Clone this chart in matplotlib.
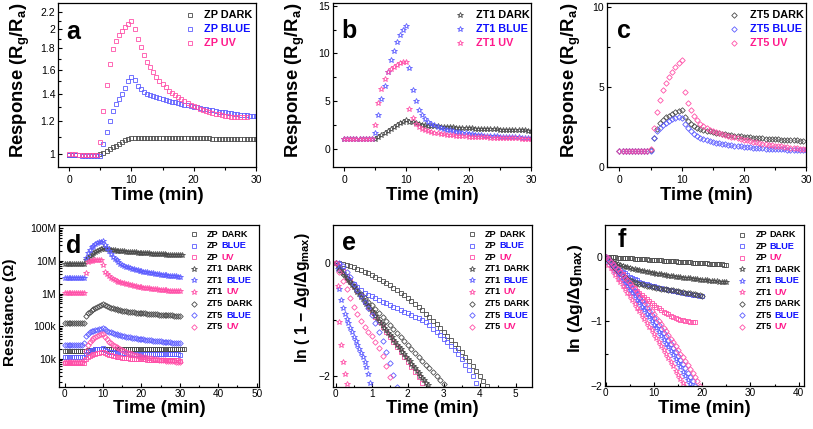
import matplotlib
matplotlib.use("Agg")
import matplotlib.pyplot as plt
from matplotlib.ticker import FixedLocator, FixedFormatter, MultipleLocator, NullFormatter, LogLocator

plt.rcParams['font.family'] = ['Liberation Sans', 'DejaVu Sans']
plt.rcParams['mathtext.fontset'] = 'custom'
plt.rcParams['mathtext.rm'] = 'Liberation Sans:bold'
plt.rcParams['mathtext.it'] = 'Liberation Sans:bold'
plt.rcParams['mathtext.bf'] = 'Liberation Sans:bold'
plt.rcParams['axes.linewidth'] = 0.9

# ---------------- data ----------------
# time grid (min) for the response / resistance panels
t_top = [0, 0.5, 1, 1.5, 2, 2.5, 3, 3.5, 4, 4.5, 5, 5.5, 6, 6.5, 7, 7.5, 8, 8.5, 9, 9.5,
         10, 10.5, 11, 11.5, 12, 12.5, 13, 13.5, 14, 14.5, 15, 15.5, 16, 16.5, 17, 17.5, 18, 18.5, 19, 19.5,
         20, 20.5, 21, 21.5, 22, 22.5, 23, 23.5, 24, 24.5, 25, 25.5, 26, 26.5, 27, 27.5, 28, 28.5, 29, 29.5, 30]
t_d = t_top + [30.5, 31]
t_f = t_top[:51]
t_e = [0, 0.1, 0.2, 0.3, 0.4, 0.5, 0.6, 0.7, 0.8, 0.9, 1.0, 1.1, 1.2, 1.3, 1.4, 1.5, 1.6, 1.7, 1.8, 1.9, 2.0,
       2.1, 2.2, 2.3, 2.4, 2.5, 2.6, 2.7, 2.8, 2.9, 3.0, 3.1, 3.2, 3.3, 3.4, 3.5, 3.6, 3.7, 3.8, 3.9, 4.0, 4.1, 4.2]
t_ef = [0, 0.05, 0.1, 0.15, 0.2, 0.25, 0.3, 0.35, 0.4, 0.45, 0.5, 0.55, 0.6, 0.65, 0.7, 0.75, 0.8, 0.85, 0.9, 0.95,
        1.0, 1.05, 1.1, 1.15, 1.2, 1.25, 1.3, 1.35, 1.4, 1.45, 1.5, 1.55, 1.6, 1.65, 1.7, 1.75, 1.8, 1.85, 1.9, 1.95,
        2.0, 2.05, 2.1, 2.15, 2.2, 2.25, 2.3, 2.35, 2.4, 2.45, 2.5, 2.55, 2.6]

# (a) ZP response
a_dark = [0.998, 0.998, 0.998, 0.997, 0.997, 0.997, 0.997, 0.996, 0.996, 0.996,
          1.0, 1.01, 1.02, 1.03, 1.04, 1.05, 1.06, 1.07, 1.08, 1.088, 1.095,
          1.096, 1.096, 1.096, 1.096, 1.095, 1.095, 1.095, 1.095, 1.095, 1.094, 1.094, 1.094, 1.094, 1.094,
          1.093, 1.093, 1.093, 1.093, 1.093, 1.092, 1.092, 1.092, 1.092, 1.092, 1.092, 1.091, 1.091, 1.091,
          1.091, 1.091, 1.091, 1.09, 1.09, 1.09, 1.09, 1.09, 1.09, 1.09, 1.09, 1.09]
a_blue = [0.995, 0.995, 0.994, 0.994, 0.993, 0.993, 0.992, 0.992, 0.991, 0.991,
          0.99, 1.06, 1.13, 1.2, 1.27, 1.32, 1.36, 1.4, 1.445, 1.5, 1.54,
          1.51, 1.46, 1.435, 1.415, 1.4, 1.39, 1.38, 1.372, 1.365, 1.358, 1.352, 1.346, 1.34, 1.334, 1.328,
          1.322, 1.317, 1.312, 1.307, 1.302, 1.297, 1.292, 1.288, 1.284, 1.28, 1.276, 1.272, 1.268, 1.265,
          1.262, 1.259, 1.256, 1.253, 1.25, 1.247, 1.244, 1.242, 1.24, 1.237, 1.235]
a_uv = [1.0, 1.0, 0.999, 0.998, 0.998, 0.997, 0.997, 0.996, 0.996, 0.995,
        1.07, 1.27, 1.47, 1.65, 1.79, 1.875, 1.935, 1.98, 2.025, 2.065, 2.1,
        2.0, 1.9, 1.81, 1.74, 1.67, 1.62, 1.58, 1.54, 1.505, 1.475, 1.45, 1.425, 1.405, 1.387, 1.372,
        1.357, 1.343, 1.33, 1.318, 1.307, 1.297, 1.288, 1.28, 1.272, 1.265, 1.259, 1.253, 1.248, 1.244,
        1.24, 1.236, 1.233, 1.23, 1.228, 1.227, 1.228, 1.231]

# (b) ZT1 response
b_dark = [1.0, 1.0, 1.0, 1.0, 1.0, 1.0, 1.0, 1.0, 1.0, 1.0,
          1.05, 1.25, 1.45, 1.65, 1.85, 2.05, 2.25, 2.45, 2.65, 2.85, 3.0,
          2.85, 2.75, 2.65, 2.58, 2.52, 2.47, 2.43, 2.4, 2.37, 2.34, 2.31, 2.29, 2.27, 2.25, 2.23, 2.21,
          2.19, 2.17, 2.16, 2.14, 2.13, 2.11, 2.1, 2.08, 2.07, 2.06, 2.04, 2.03, 2.02, 2.0, 1.99, 1.98,
          1.97, 1.96, 1.95, 1.94, 1.93, 1.92, 1.91, 1.9]
b_blue = [0.97, 0.97, 0.97, 0.97, 0.97, 0.97, 0.97, 0.97, 0.97, 0.97,
          1.6, 3.5, 5.2, 6.6, 8.1, 9.3, 10.3, 11.2, 11.9, 12.5, 12.9,
          8.5, 6.2, 5.0, 4.1, 3.5, 3.1, 2.8, 2.6, 2.45, 2.3, 2.2, 2.1, 2.0, 1.92, 1.85, 1.78, 1.72, 1.66,
          1.6, 1.55, 1.51, 1.47, 1.44, 1.41, 1.38, 1.35, 1.33, 1.31, 1.29, 1.27, 1.25, 1.23, 1.22, 1.2,
          1.19, 1.18, 1.17, 1.16, 1.15, 1.14]
b_uv = [1.0, 1.0, 1.0, 1.0, 1.0, 1.0, 1.0, 1.0, 1.0, 1.0,
        2.5, 4.8, 6.3, 7.3, 8.0, 8.35, 8.6, 8.8, 8.95, 9.05, 9.1,
        4.2, 3.2, 2.6, 2.3, 2.1, 1.95, 1.83, 1.74, 1.66, 1.6, 1.55, 1.5, 1.46, 1.42, 1.39, 1.36, 1.33,
        1.31, 1.29, 1.27, 1.25, 1.23, 1.22, 1.2, 1.19, 1.18, 1.17, 1.16, 1.15, 1.14, 1.13, 1.12, 1.11,
        1.1, 1.09, 1.08, 1.07, 1.06, 1.05, 1.05]

# (c) ZT5 response
c_dark = [1.0, 1.0, 1.0, 1.0, 1.0, 1.0, 1.0, 1.0, 1.0, 1.0,
          1.05, 1.8, 2.35, 2.75, 2.95, 3.1, 3.2, 3.3, 3.4, 3.5, 3.55,
          3.1, 2.85, 2.65, 2.52, 2.44, 2.37, 2.31, 2.26, 2.21, 2.17, 2.13, 2.09, 2.05, 2.02, 1.99, 1.96,
          1.93, 1.91, 1.89, 1.87, 1.85, 1.83, 1.81, 1.79, 1.78, 1.76, 1.75, 1.73, 1.72, 1.71, 1.7, 1.69,
          1.68, 1.67, 1.66, 1.65, 1.64, 1.63, 1.62]
c_blue = [1.0, 1.0, 1.0, 1.0, 1.0, 1.0, 1.0, 1.0, 1.0, 1.0,
          1.0, 1.8, 2.2, 2.45, 2.62, 2.75, 2.88, 2.97, 3.05, 3.1, 3.05,
          2.65, 2.4, 2.2, 2.05, 1.92, 1.82, 1.73, 1.66, 1.6, 1.55, 1.5, 1.46, 1.42, 1.39, 1.36, 1.33, 1.3,
          1.28, 1.26, 1.24, 1.22, 1.2, 1.18, 1.17, 1.15, 1.14, 1.13, 1.11, 1.1, 1.09, 1.08, 1.07, 1.07,
          1.06, 1.05, 1.05, 1.04, 1.04, 1.03, 1.03]
c_uv = [1.0, 1.0, 1.0, 1.0, 1.0, 1.0, 1.0, 1.0, 1.0, 1.0,
        1.1, 2.4, 3.4, 4.2, 4.8, 5.25, 5.6, 5.95, 6.25, 6.5, 6.7,
        4.7, 4.0, 3.55, 3.2, 2.9, 2.68, 2.52, 2.4, 2.3, 2.22, 2.15, 2.09, 2.03, 1.98, 1.93, 1.88, 1.83,
        1.78, 1.73, 1.68, 1.64, 1.6, 1.56, 1.52, 1.48, 1.44, 1.41, 1.37, 1.34, 1.31, 1.28, 1.26, 1.23,
        1.21, 1.19, 1.17, 1.15, 1.13, 1.11, 1.09]

# (d) resistance, kOhm
d_zp_dark = [17.5, 17.5, 17.5, 17.5, 17.5, 17.5, 17.5, 17.5, 17.5, 17.5, 17.5,
             18.0, 18.4, 18.8, 19.1, 19.4, 19.7, 20.0, 20.3, 20.6, 20.8,
             20.8, 20.8, 20.7, 20.7, 20.6, 20.6, 20.5, 20.5, 20.5, 20.4, 20.4, 20.4, 20.3, 20.3, 20.3, 20.2,
             20.2, 20.2, 20.2, 20.1, 20.1, 20.1, 20.1, 20.0, 20.0, 20.0, 20.0, 20.0, 19.9, 19.9, 19.9, 19.9,
             19.9, 19.8, 19.8, 19.8, 19.8, 19.8, 19.8, 19.7, 19.7, 19.7]
d_zp_blue = [11.8, 11.8, 11.8, 11.8, 11.8, 11.8, 11.8, 11.8, 11.8, 11.8, 11.8,
             14.0, 16.0, 17.3, 18.3, 19.0, 19.6, 20.1, 20.5, 20.9, 21.2,
             18.5, 17.3, 16.6, 16.1, 15.8, 15.5, 15.3, 15.1, 15.0, 14.9, 14.8, 14.7, 14.65, 14.6, 14.55, 14.5,
             14.45, 14.4, 14.35, 14.3, 14.3, 14.25, 14.2, 14.2, 14.15, 14.1, 14.1, 14.05, 14.0, 14.0, 13.95,
             13.9, 13.9, 13.85, 13.85, 13.8, 13.8, 13.75, 13.75, 13.7]
d_zp_uv = [7.7, 7.7, 7.7, 7.7, 7.7, 7.7, 7.7, 7.7, 7.7, 7.7, 7.7,
           10.0, 11.5, 12.6, 13.4, 14.1, 14.7, 15.2, 15.7, 16.1, 16.4,
           15.2, 14.3, 13.6, 13.0, 12.5, 12.1, 11.8, 11.5, 11.2, 11.0, 10.8, 10.6, 10.45, 10.3, 10.2, 10.1,
           10.0, 9.9, 9.8, 9.75, 9.7, 9.65, 9.6, 9.55, 9.5, 9.45, 9.4, 9.35, 9.3, 9.3, 9.25, 9.2, 9.2,
           9.15, 9.1, 9.1, 9.05, 9.0, 9.0, 8.95]
d_zt1_dark = [8100, 8100, 8100, 8100, 8100, 8100, 8100, 8100, 8100, 8100, 8300,
              10500, 12500, 14000, 15500, 17000, 18500, 20000, 21500, 23000, 24000,
              23500, 22800, 22300, 21800, 21400, 21000, 20700, 20400, 20100, 19800, 19550, 19300, 19050,
              18850, 18600, 18400, 18200, 18000, 17800, 17600, 17450, 17250, 17100, 16900, 16750, 16600,
              16450, 16300, 16150, 16000, 15850, 15700, 15600, 15450, 15300, 15200, 15050, 14900, 14800,
              14700, 14600]
d_zt1_blue = [3050, 3050, 3050, 3050, 3050, 3050, 3050, 3050, 3050, 3050, 3100,
              12000, 17500, 22000, 26000, 29500, 32500, 35000, 37000, 39000, 40000,
              31000, 24000, 19500, 16000, 13500, 11700, 10300, 9200, 8300, 7600, 7100, 6700, 6350, 6050,
              5800, 5550, 5350, 5150, 5000, 4850, 4700, 4580, 4460, 4350, 4250, 4150, 4060, 3980, 3900,
              3820, 3750, 3680, 3620, 3560, 3500, 3450, 3400, 3350, 3300, 3250]
d_zt1_uv = [1020, 1020, 1020, 1020, 1020, 1020, 1020, 1020, 1020, 1020, 1050,
            4200, 9000, 9800, 10200, 10400, 10500, 10600, 10700, 10800, 7600,
            4700, 3900, 3400, 3050, 2800, 2600, 2450, 2320, 2210, 2120, 2040, 1970, 1900, 1840, 1780,
            1730, 1680, 1640, 1600, 1560, 1520, 1490, 1460, 1430, 1400, 1380, 1360, 1340, 1320, 1300,
            1285, 1270, 1255, 1240, 1225, 1210, 1200, 1185, 1175, 1160]
d_zt5_dark = [125, 125, 125, 125, 125, 125, 125, 125, 125, 125, 125,
              210, 250, 280, 310, 340, 365, 395, 420, 450, 470,
              440, 410, 385, 365, 350, 338, 327, 317, 308, 300, 293, 287, 281, 276, 271, 267, 263, 259,
              255, 252, 249, 246, 243, 240, 238, 235, 233, 231, 229, 227, 225, 223, 221, 219, 217, 215,
              213, 211, 209, 207]
d_zt5_blue = [27, 27, 27, 27, 27, 27, 27, 27, 27, 27, 30,
              52, 60, 66, 70, 73, 76, 79, 82, 85, 87,
              80, 74, 69, 65, 62, 59, 57, 55, 53, 51, 49.5, 48, 47, 46, 45, 44, 43, 42.2, 41.4, 40.6,
              39.9, 39.2, 38.5, 37.9, 37.3, 36.7, 36.1, 35.6, 35.1, 34.6, 34.1, 33.6, 33.1, 32.7, 32.3,
              31.9, 31.5, 31.1, 30.7, 30.3]
d_zt5_uv = [8.0, 8.0, 8.0, 8.0, 8.0, 8.0, 8.0, 8.0, 8.0, 8.0, 9.0,
            18, 26, 33, 38, 43, 47, 51, 55, 58, 60,
            48, 40, 34, 30, 27, 24.5, 22.5, 21, 19.6, 18.4, 17.3, 16.4, 15.6, 14.9, 14.3, 13.7, 13.2,
            12.7, 12.3, 11.9, 11.5, 11.2, 10.9, 10.6, 10.4, 10.1, 9.9, 9.7, 9.5, 9.3, 9.15, 9.0, 8.85,
            8.7, 8.6, 8.5, 8.4, 8.3, 8.2, 8.1]

# (e) ln(1 - dg/dg_max)
e_zp_dark = [0, -0.016, -0.034, -0.053, -0.075, -0.098, -0.124, -0.151, -0.18, -0.21, -0.243, -0.278,
             -0.314, -0.352, -0.392, -0.434, -0.478, -0.524, -0.571, -0.621, -0.672, -0.725, -0.78,
             -0.837, -0.896, -0.956, -1.019, -1.083, -1.149, -1.217, -1.287, -1.359, -1.432, -1.508,
             -1.585, -1.664, -1.745, -1.828, -1.913, -2.0, -2.088, -2.178]
e_zp_blue = [-0.02, -0.12, -0.22, -0.3, -0.37, -0.43, -0.48, -0.52, -0.56, -0.59, -0.62, -0.65, -0.68,
             -0.71, -0.74, -0.77, -0.8, -0.83, -0.86, -0.89, -0.92, -0.95, -0.98, -1.01, -1.04, -1.1,
             -1.16, -1.22, -1.28, -1.34, -1.4, -1.47, -1.54, -1.62, -1.71, -1.8, -1.9, -2.01, -2.13]
e_zp_uv = [0, -0.05, -0.14, -0.23, -0.32, -0.41, -0.5, -0.59, -0.68, -0.77, -0.86, -0.95, -1.04, -1.13,
           -1.22, -1.31, -1.4, -1.49, -1.58, -1.67, -1.76, -1.85, -1.94, -2.03, -2.12]
e_zt1_dark = [0, -0.043, -0.085, -0.128, -0.17, -0.213, -0.255, -0.298, -0.34, -0.383, -0.425, -0.468,
              -0.51, -0.553, -0.595, -0.638, -0.68, -0.723, -0.765, -0.808, -0.85, -0.893, -0.935,
              -0.978, -1.02, -1.063, -1.105, -1.148, -1.19, -1.233, -1.275, -1.318, -1.36, -1.403, -1.445,
              -1.488, -1.53, -1.573, -1.615, -1.658, -1.7, -1.743, -1.785, -1.828, -1.87, -1.913, -1.955,
              -1.998, -2.04, -2.083, -2.125, -2.168]
e_zt1_blue = [0, -0.1, -0.45, -0.66, -0.8, -0.9, -0.99, -1.07, -1.15, -1.23, -1.31, -1.38, -1.45, -1.52,
              -1.59, -1.67, -1.76, -1.85, -1.97, -2.12]
e_zt1_uv = [0, -0.4, -1.05, -1.45, -1.75, -1.97, -2.14]
e_zt5_dark = [0, -0.12, -0.19, -0.26, -0.33, -0.4, -0.47, -0.54, -0.61, -0.68, -0.75, -0.82, -0.89,
              -0.96, -1.03, -1.1, -1.17, -1.24, -1.31, -1.38, -1.45, -1.52, -1.59, -1.66, -1.73, -1.8,
              -1.87, -1.94, -2.01, -2.08, -2.15]
e_zt5_blue = [0, -0.05, -0.15, -0.25, -0.36, -0.47, -0.58, -0.69, -0.8, -0.92, -1.06, -1.22, -1.39,
              -1.57, -1.77, -1.98, -2.2]
e_zt5_uv = [0, -0.15, -0.31, -0.46, -0.61, -0.77, -0.91, -1.03, -1.13, -1.22, -1.3, -1.4, -1.51, -1.65,
            -1.82, -2.02, -2.25]

# (f) ln(dg/dg_max)
f_zp_dark = [0, -0.003, -0.005, -0.008, -0.01, -0.013, -0.015, -0.018, -0.02, -0.023, -0.025, -0.028,
             -0.03, -0.033, -0.035, -0.038, -0.04, -0.043, -0.045, -0.048, -0.05, -0.053, -0.055, -0.058,
             -0.06, -0.063, -0.065, -0.068, -0.07, -0.073, -0.075, -0.078, -0.08, -0.083, -0.085, -0.088,
             -0.09, -0.093, -0.095, -0.098, -0.1, -0.103, -0.105, -0.108, -0.11, -0.113, -0.115, -0.118,
             -0.12, -0.123, -0.125]
f_zp_blue = [0, -0.03, -0.06, -0.095, -0.13, -0.165, -0.2, -0.23, -0.26, -0.285, -0.31, -0.33, -0.35,
             -0.368, -0.385, -0.4, -0.415, -0.428, -0.44, -0.45, -0.46, -0.47, -0.48, -0.488, -0.495,
             -0.503, -0.51, -0.518, -0.525, -0.533, -0.54, -0.548, -0.555, -0.563, -0.57, -0.578, -0.585,
             -0.593, -0.6, -0.607, -0.615]
f_zp_uv = [0, -0.035, -0.07, -0.11, -0.15, -0.19, -0.23, -0.27, -0.31, -0.355, -0.4, -0.445, -0.49,
           -0.525, -0.56, -0.595, -0.63, -0.66, -0.69, -0.72, -0.75, -0.775, -0.8, -0.825, -0.85, -0.87,
           -0.89, -0.91, -0.93, -0.945, -0.96, -0.973, -0.985, -0.993, -1.0, -1.005, -1.01, -1.012]
f_zt1_dark = [0, -0.03, -0.055, -0.077, -0.097, -0.115, -0.13, -0.144, -0.156, -0.167, -0.177, -0.187,
              -0.196, -0.205, -0.213, -0.221, -0.229, -0.236, -0.243, -0.25, -0.257, -0.263, -0.269,
              -0.275, -0.281, -0.287, -0.292, -0.297, -0.302, -0.307, -0.312, -0.317, -0.322, -0.327,
              -0.331, -0.336, -0.34, -0.345, -0.349, -0.354, -0.358, -0.362, -0.367, -0.371, -0.375,
              -0.379, -0.383, -0.387, -0.391, -0.395, -0.399]
f_zt1_blue = [0, -0.075, -0.121, -0.168, -0.215, -0.263, -0.311, -0.36, -0.409, -0.459, -0.51, -0.561,
              -0.613, -0.666, -0.719, -0.773, -0.827, -0.882, -0.937, -0.993, -1.05, -1.107, -1.165,
              -1.224, -1.283, -1.343, -1.403, -1.464, -1.525, -1.587, -1.65, -1.713, -1.777, -1.842,
              -1.907, -1.973, -2.039]
f_zt1_uv = [0, -0.123, -0.176, -0.229, -0.283, -0.338, -0.392, -0.447, -0.503, -0.559, -0.615, -0.672,
            -0.729, -0.786, -0.844, -0.903, -0.961, -1.02, -1.08, -1.14, -1.2, -1.261, -1.322, -1.383,
            -1.445, -1.508, -1.57, -1.633, -1.697, -1.761, -1.825, -1.89, -1.955, -2.02]
f_zt5_dark = [0, -0.05, -0.1, -0.14, -0.18, -0.22, -0.255, -0.29, -0.32, -0.34, -0.36, -0.375, -0.39,
              -0.405, -0.42, -0.43, -0.44, -0.45, -0.46, -0.468, -0.475, -0.483, -0.49, -0.495, -0.5,
              -0.505, -0.51, -0.515, -0.52, -0.527, -0.535, -0.542, -0.55, -0.555, -0.56, -0.567, -0.575,
              -0.582, -0.59, -0.597, -0.605]
f_zt5_blue = [0, -0.04, -0.082, -0.123, -0.166, -0.209, -0.254, -0.298, -0.344, -0.39, -0.438, -0.485,
              -0.534, -0.583, -0.634, -0.684, -0.736, -0.788, -0.842, -0.895, -0.95, -1.005, -1.062,
              -1.118, -1.176, -1.234, -1.294, -1.353, -1.414, -1.475, -1.538, -1.6, -1.664, -1.728,
              -1.794, -1.859, -1.926, -1.993, -2.062]
f_zt5_uv = [0, -0.038, -0.076, -0.116, -0.156, -0.196, -0.238, -0.28, -0.322, -0.366, -0.41, -0.455,
            -0.5, -0.547, -0.594, -0.641, -0.69, -0.739, -0.788, -0.839, -0.89, -0.942, -0.994, -1.048,
            -1.102, -1.156, -1.212, -1.268, -1.324, -1.382, -1.44, -1.499, -1.558, -1.619, -1.68,
            -1.741, -1.804, -1.867, -1.93, -1.995, -2.06]

# ---------------- style ----------------
GREY = '#4a4a4a'
BLUE = '#5c5cff'
PINK = '#ff50a8'
COL = {'DARK': GREY, 'BLUE': BLUE, 'UV': PINK}
TXT = {'DARK': 'black', 'BLUE': '#1010ff', 'UV': '#ff1a8c'}
MK = {'ZP': 's', 'ZT1': '*', 'ZT5': 'D'}
MS = {'ZP': 3.2, 'ZT1': 4.3, 'ZT5': 2.8}
W, H = 813, 429


def px_axes(fig, l, t, r, b):
    return fig.add_axes([l / W, 1 - b / H, (r - l) / W, (b - t) / H])


def draw(ax, t, vals, sample, cond, start=0):
    ax.plot(t[start:start + len(vals)], vals, ls='none', marker=MK[sample], ms=MS[sample],
            mfc='none', mec=COL[cond], mew=0.6)


def legend(ax, entries, xm, xt, y0, dy, fs, split):
    for i, (sample, cond) in enumerate(entries):
        y = y0 - i * dy
        ax.plot([xm], [y], transform=ax.transAxes, ls='none', marker=MK[sample], ms=MS[sample],
                mfc='none', mec=COL[cond], mew=0.6, clip_on=False)
        if split:
            t1 = ax.text(xt, y, sample, transform=ax.transAxes, fontsize=fs, fontweight='bold',
                         va='center', color='black')
            ax.annotate(cond, xy=(1, 0), xycoords=t1, xytext=(fs * 0.28, 0), textcoords='offset points',
                        fontsize=fs, fontweight='bold', va='bottom', color=TXT[cond])
        else:
            ax.text(xt, y, sample + ' ' + cond, transform=ax.transAxes, fontsize=fs,
                    fontweight='bold', va='center', color=TXT[cond])


def style(ax, letter, lx, ly, ylab, ylx, yly, yfs, xly, bottom_row=False):
    ax.tick_params(which='both', direction='in', labelsize=7.5, width=0.8, top=False, right=False, pad=2)
    if bottom_row:
        ax.tick_params(axis='x', which='both', direction='in', pad=1.5, labelsize=7.2)
    else:
        ax.tick_params(axis='x', which='both', direction='out', pad=2.5)
    ax.tick_params(which='major', length=3)
    ax.tick_params(which='minor', length=1.8)
    ax.text(lx, ly, letter, transform=ax.transAxes, fontsize=18, fontweight='bold', va='baseline')
    ax.set_xlabel('Time (min)', fontsize=13.3, fontweight='bold')
    ax.xaxis.set_label_coords(0.5, xly)
    ax.set_ylabel(ylab, fontsize=yfs, fontweight='bold')
    ax.yaxis.set_label_coords(ylx, yly)


fig = plt.figure(figsize=(W / 100, H / 100), dpi=100)

# (a)
ax = px_axes(fig, 58, 3, 256, 167)
draw(ax, t_top, a_dark, 'ZP', 'DARK')
draw(ax, t_top, a_blue, 'ZP', 'BLUE')
draw(ax, t_top, a_uv, 'ZP', 'UV')
ax.set_yscale('log')
ax.set_xlim(-1.8, 30)
ax.set_ylim(0.932, 2.316)
ax.yaxis.set_major_locator(FixedLocator([1, 1.2, 1.4, 1.6, 1.8, 2.0, 2.2]))
ax.yaxis.set_major_formatter(FixedFormatter(['1', '1.2', '1.4', '1.6', '1.8', '2', '2.2']))
ax.yaxis.set_minor_locator(FixedLocator([1.1, 1.3, 1.5, 1.7, 1.9, 2.1]))
ax.yaxis.set_minor_formatter(NullFormatter())
ax.xaxis.set_major_locator(MultipleLocator(10))
ax.xaxis.set_minor_locator(MultipleLocator(5))
style(ax, 'a', 0.044, 0.779, 'Response (R$_g$/R$_a$)', -0.133, 0.53, 13.3, -0.12)
legend(ax, [('ZP', 'DARK'), ('ZP', 'BLUE'), ('ZP', 'UV')], 0.667, 0.737, 0.927, 0.084, 7.8, False)

# (b)
ax = px_axes(fig, 333, 3, 531, 167)
draw(ax, t_top, b_dark, 'ZT1', 'DARK')
draw(ax, t_top, b_blue, 'ZT1', 'BLUE')
draw(ax, t_top, b_uv, 'ZT1', 'UV')
ax.set_xlim(-1.77, 30)
ax.set_ylim(-1.92, 15.29)
ax.yaxis.set_major_locator(MultipleLocator(5))
ax.yaxis.set_minor_locator(MultipleLocator(2.5))
ax.xaxis.set_major_locator(MultipleLocator(10))
ax.xaxis.set_minor_locator(MultipleLocator(5))
style(ax, 'b', 0.044, 0.785, 'Response (R$_g$/R$_a$)', -0.13, 0.53, 13.3, -0.12)
legend(ax, [('ZT1', 'DARK'), ('ZT1', 'BLUE'), ('ZT1', 'UV')], 0.643, 0.72, 0.927, 0.084, 7.8, False)

# (c)
ax = px_axes(fig, 607, 3, 806, 167)
draw(ax, t_top, c_dark, 'ZT5', 'DARK')
draw(ax, t_top, c_blue, 'ZT5', 'BLUE')
draw(ax, t_top, c_uv, 'ZT5', 'UV')
ax.set_xlim(-2.0, 30)
ax.set_ylim(-0.03, 10.27)
ax.yaxis.set_major_locator(MultipleLocator(5))
ax.yaxis.set_minor_locator(MultipleLocator(2.5))
ax.xaxis.set_major_locator(MultipleLocator(10))
ax.xaxis.set_minor_locator(MultipleLocator(5))
style(ax, 'c', 0.05, 0.785, 'Response (R$_g$/R$_a$)', -0.119, 0.53, 13.3, -0.12)
legend(ax, [('ZT5', 'DARK'), ('ZT5', 'BLUE'), ('ZT5', 'UV')], 0.64, 0.718, 0.927, 0.084, 7.8, False)

order = [('ZP', 'DARK'), ('ZP', 'BLUE'), ('ZP', 'UV'), ('ZT1', 'DARK'), ('ZT1', 'BLUE'), ('ZT1', 'UV'),
         ('ZT5', 'DARK'), ('ZT5', 'BLUE'), ('ZT5', 'UV')]

# (d)
ax = px_axes(fig, 59, 225, 259, 387)
draw(ax, t_d, d_zp_dark, 'ZP', 'DARK')
draw(ax, t_d, d_zp_blue, 'ZP', 'BLUE')
draw(ax, t_d, d_zp_uv, 'ZP', 'UV')
draw(ax, t_d, d_zt1_dark, 'ZT1', 'DARK')
draw(ax, t_d, d_zt1_blue, 'ZT1', 'BLUE')
draw(ax, t_d, d_zt1_uv, 'ZT1', 'UV')
draw(ax, t_d, d_zt5_dark, 'ZT5', 'DARK')
draw(ax, t_d, d_zt5_blue, 'ZT5', 'BLUE')
draw(ax, t_d, d_zt5_uv, 'ZT5', 'UV')
ax.set_yscale('log')
ax.set_xlim(-1.48, 50.6)
ax.set_ylim(1.39, 1.25e5)
ax.yaxis.set_major_locator(FixedLocator([10, 100, 1e3, 1e4, 1e5]))
ax.yaxis.set_major_formatter(FixedFormatter(['10k', '100k', '1M', '10M', '100M']))
ax.yaxis.set_minor_locator(LogLocator(base=10, subs=(2, 3, 4, 5, 6, 7, 8, 9)))
ax.yaxis.set_minor_formatter(NullFormatter())
ax.xaxis.set_major_locator(MultipleLocator(10))
ax.xaxis.set_minor_locator(MultipleLocator(5))
style(ax, 'd', 0.033, 0.825, 'Resistance (Ω)', -0.21, 0.46, 11, -0.082, True)
legend(ax, order, 0.677, 0.741, 0.944, 0.0715, 6.6, True)

# (e)
ax = px_axes(fig, 333, 225, 532, 387)
draw(ax, t_e, e_zp_dark, 'ZP', 'DARK', start=1)
draw(ax, t_e, e_zp_blue, 'ZP', 'BLUE', start=1)
draw(ax, t_e, e_zp_uv, 'ZP', 'UV')
draw(ax, t_ef, e_zt1_dark, 'ZT1', 'DARK')
draw(ax, t_ef, e_zt1_blue, 'ZT1', 'BLUE')
draw(ax, t_ef, e_zt1_uv, 'ZT1', 'UV')
draw(ax, t_e, e_zt5_dark, 'ZT5', 'DARK')
draw(ax, t_e, e_zt5_blue, 'ZT5', 'BLUE', start=1)
draw(ax, t_e, e_zt5_uv, 'ZT5', 'UV')
ax.set_xlim(-0.075, 5.45)
ax.set_ylim(-2.2, 0.68)
ax.yaxis.set_major_locator(MultipleLocator(2))
ax.yaxis.set_minor_locator(MultipleLocator(1))
ax.xaxis.set_major_locator(MultipleLocator(1))
ax.xaxis.set_minor_locator(MultipleLocator(0.5))
style(ax, 'e', 0.044, 0.846, 'ln ( 1 − Δg/Δg$_{max}$)', -0.107, 0.552, 11.4, -0.082, True)
legend(ax, order, 0.697, 0.764, 0.944, 0.0715, 6.6, True)

# (f)
ax = px_axes(fig, 605, 225, 804, 386)
draw(ax, t_f, f_zp_dark, 'ZP', 'DARK')
draw(ax, t_f, f_zp_blue, 'ZP', 'BLUE')
draw(ax, t_f, f_zp_uv, 'ZP', 'UV')
draw(ax, t_f, f_zt1_dark, 'ZT1', 'DARK')
draw(ax, t_f, f_zt1_blue, 'ZT1', 'BLUE')
draw(ax, t_f, f_zt1_uv, 'ZT1', 'UV')
draw(ax, t_f, f_zt5_dark, 'ZT5', 'DARK')
draw(ax, t_f, f_zt5_blue, 'ZT5', 'BLUE')
draw(ax, t_f, f_zt5_uv, 'ZT5', 'UV')
ax.set_xlim(-0.15, 41.1)
ax.set_ylim(-2.0, 0.49)
ax.yaxis.set_major_locator(MultipleLocator(1))
ax.yaxis.set_minor_locator(MultipleLocator(0.5))
ax.xaxis.set_major_locator(MultipleLocator(10))
ax.xaxis.set_minor_locator(MultipleLocator(5))
style(ax, 'f', 0.065, 0.866, 'ln (Δg/Δg$_{max}$)', -0.1, 0.543, 12.5, -0.085, True)
legend(ax, order, 0.689, 0.757, 0.938, 0.0711, 6.6, True)

fig.savefig('out.png', dpi=100)
